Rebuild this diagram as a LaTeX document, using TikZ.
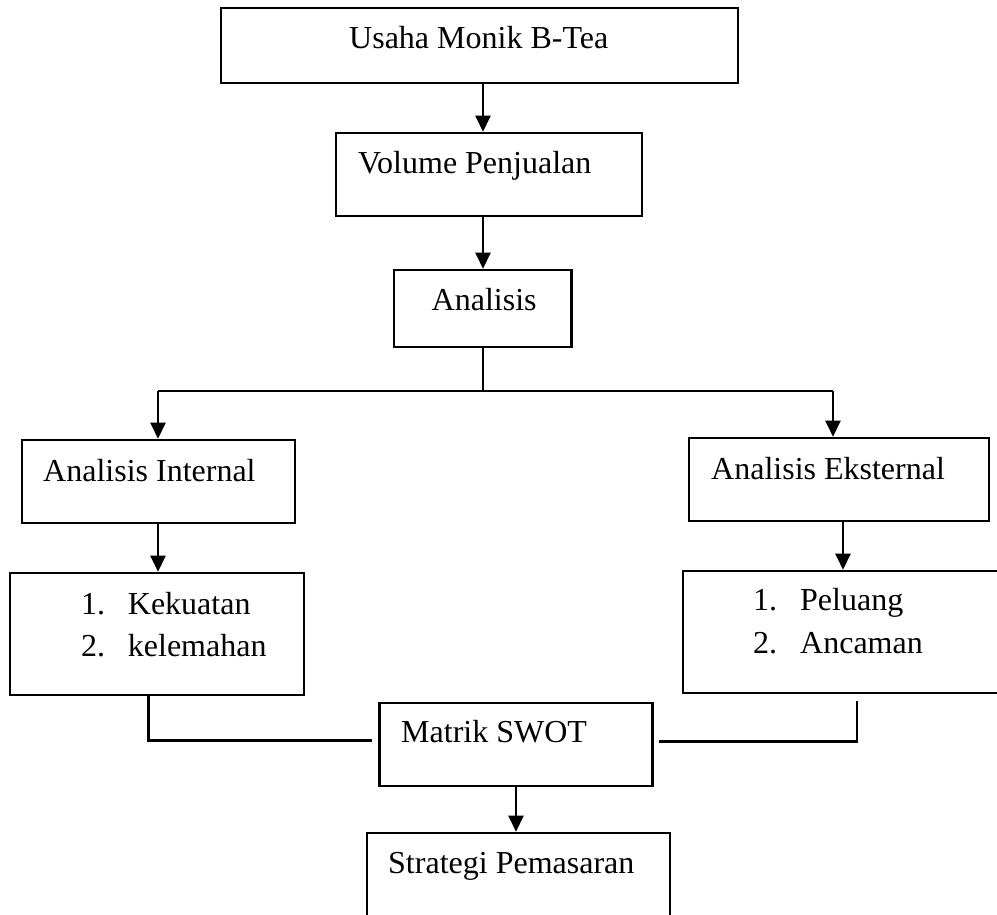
\documentclass[tikz,border=0pt]{standalone}
\usepackage{fontspec}
\setmainfont{Liberation Serif}
\usetikzlibrary{arrows.meta}
\begin{document}
\begin{tikzpicture}[x=1pt,y=-1pt,
  box/.style={draw=black, line width=2.6pt, rectangle, inner sep=0pt},
  lbl/.style={anchor=base west, inner sep=0pt, font=\fontsize{32}{38}\selectfont},
  arr/.style={line width=2.4pt, -{Triangle[width=15pt,length=16pt]}},
  ln/.style={line width=2.3pt}]
\useasboundingbox (0,0) rectangle (997,914);
\clip (0,0) rectangle (997,914);
% boxes
\node[box, minimum width=517pt, minimum height=75pt] (usaha) at (479.5,45.5) {};
\node[box, minimum width=306pt, minimum height=83pt] (volume) at (489,174.5) {};
\node[box, minimum width=177.5pt, minimum height=77pt] (analisis) at (482.75,308.5) {};
\node[box, minimum width=273pt, minimum height=83pt] (internal) at (158.5,481.5) {};
\node[box, minimum width=294pt, minimum height=122pt] (kek) at (157,634) {};
\node[box, minimum width=300pt, minimum height=83pt] (eksternal) at (839,479.5) {};
\node[box, minimum width=327pt, minimum height=122pt] (peluang) at (846.5,632) {};
\node[box, minimum width=272.5pt, minimum height=83pt] (matrik) at (516,744.5) {};
\node[box, minimum width=303pt, minimum height=127pt] (strategi) at (518.5,896.5) {};
% texts
\node[lbl] (t1) at (349,48) {Usaha Monik B-Tea};
\node[lbl] (t2) at (358,173) {Volume Penjualan};
\node[lbl] (t3) at (431.5,310.5) {Analisis};
\node[lbl] (t4) at (43,481) {Analisis Internal};
\node[lbl] (t5a) at (81,614) {1.};
\node[lbl] (t5b) at (127.7,614) {Kekuatan};
\node[lbl] (t5c) at (81,656) {2.};
\node[lbl] (t5d) at (127.7,656) {kelemahan};
\node[lbl] (t6) at (711,479) {Analisis Eksternal};
\node[lbl] (t7a) at (753,610.7) {1.};
\node[lbl] (t7b) at (800,610.7) {Peluang};
\node[lbl] (t7c) at (753,653) {2.};
\node[lbl] (t7d) at (800,653) {Ancaman};
\node[lbl] (t8) at (401,742) {Matrik SWOT};
\node[lbl] (t9) at (388,873) {Strategi Pemasaran};
% helper coordinates
\coordinate (cA) at (483,0);
\coordinate (split) at (483,391);
\coordinate (sL) at (158,391);
\coordinate (sR) at (833,391);
\coordinate (cI) at (158,0);
\coordinate (cE) at (843,0);
\coordinate (jL) at (148.5,740.5);
\coordinate (jR) at (857,741.5);
\coordinate (cM) at (516,0);
% connectors
\draw[arr] (usaha.south -| cA) -- (volume.north -| cA);
\draw[arr] (volume.south -| cA) -- (analisis.north -| cA);
\draw[ln] (analisis.south -| cA) -- (split);
\draw[ln] (sL) -- (sR);
\draw[arr] (sL) -- (internal.north -| sL);
\draw[arr] (sR) -- (eksternal.north -| sR);
\draw[arr] (internal.south -| cI) -- (kek.north -| cI);
\draw[arr] (eksternal.south -| cE) -- (peluang.north -| cE);
\draw[ln] (kek.south -| jL) -- (jL) -- ([xshift=-6pt]matrik.west |- jL);
\draw[ln] ([yshift=-7pt]peluang.south -| jR) -- (jR) -- ([xshift=5pt]matrik.east |- jR);
\draw[arr] (matrik.south -| cM) -- (strategi.north -| cM);
\end{tikzpicture}
\end{document}
